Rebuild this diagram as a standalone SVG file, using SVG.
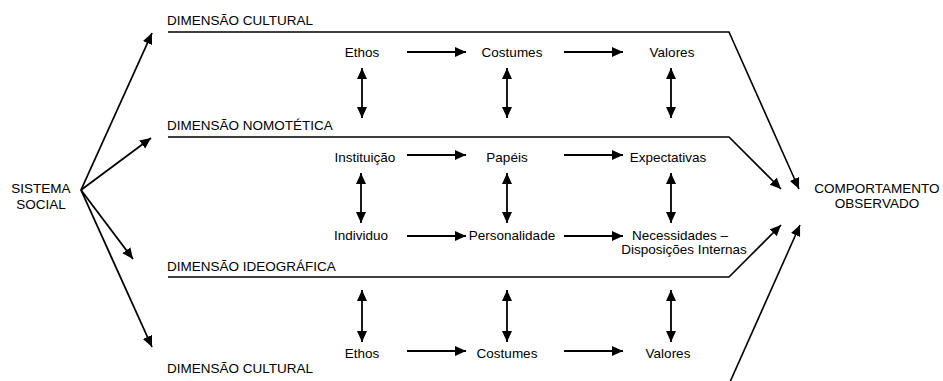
<svg xmlns="http://www.w3.org/2000/svg" width="943" height="381" viewBox="0 0 943 381">
  <style>
    text { font-family: "Liberation Sans", Arial, sans-serif; font-size: 13.5px; fill: #000; }
    .c { text-anchor: middle; }
    .ln { fill: none; stroke: #000; stroke-width: 1.6; }
    .ar { fill: none; stroke: #000; stroke-width: 1.8; marker-end: url(#head); }
    .bi { fill: none; stroke: #000; stroke-width: 1.8; marker-start: url(#head); marker-end: url(#head); }
  </style>
  <defs>
    <marker id="head" markerUnits="userSpaceOnUse" markerWidth="12" markerHeight="11" refX="11" refY="5" orient="auto-start-reverse">
      <path d="M0,0 L11,5 L0,10 z" fill="#000"/>
    </marker>
  </defs>
  <rect width="943" height="381" fill="#fff"/>

  <!-- source and outcome -->
  <g id="sistema-social">
    <text class="c" x="41" y="193">SISTEMA</text>
    <text class="c" x="41" y="209">SOCIAL</text>
  </g>
  <g id="comportamento">
    <text class="c" x="877" y="193">COMPORTAMENTO</text>
    <text class="c" x="877" y="208">OBSERVADO</text>
  </g>

  <!-- dimension labels -->
  <g id="dim-cultural-top"><text x="167" y="25">DIMENSÃO CULTURAL</text></g>
  <g id="dim-nomotetica"><text x="167" y="130">DIMENSÃO NOMOTÉTICA</text></g>
  <g id="dim-ideografica"><text x="167" y="271">DIMENSÃO IDEOGRÁFICA</text></g>
  <g id="dim-cultural-bottom"><text x="167" y="373">DIMENSÃO CULTURAL</text></g>

  <!-- row 1 -->
  <g id="ethos-top"><text class="c" x="362" y="57">Ethos</text></g>
  <g id="costumes-top"><text class="c" x="512" y="57">Costumes</text></g>
  <g id="valores-top"><text class="c" x="672" y="57">Valores</text></g>

  <!-- row 2 -->
  <g id="instituicao"><text class="c" x="365" y="162">Instituição</text></g>
  <g id="papeis"><text class="c" x="507" y="162">Papéis</text></g>
  <g id="expectativas"><text class="c" x="668" y="162">Expectativas</text></g>

  <!-- row 3 -->
  <g id="individuo"><text class="c" x="361" y="240">Individuo</text></g>
  <g id="personalidade"><text class="c" x="512" y="240">Personalidade</text></g>
  <g id="necessidades">
    <text class="c" x="680" y="240">Necessidades –</text>
    <text class="c" x="684" y="254">Disposições Internas</text>
  </g>

  <!-- row 4 -->
  <g id="ethos-bottom"><text class="c" x="362" y="358">Ethos</text></g>
  <g id="costumes-bottom"><text class="c" x="507" y="358">Costumes</text></g>
  <g id="valores-bottom"><text class="c" x="668" y="358">Valores</text></g>

  <g id="connectors">
    <!-- from the social system to each dimension -->
    <line class="ar" x1="81" y1="190" x2="152" y2="33"/>
    <line class="ar" x1="81" y1="190" x2="151" y2="138"/>
    <line class="ar" x1="81" y1="190" x2="133" y2="259"/>
    <line class="ar" x1="81" y1="190" x2="152" y2="347"/>

    <!-- dimension lines converging on behaviour -->
    <polyline class="ln" points="168,32 729,32 799,189" marker-end="url(#head)"/>
    <polyline class="ln" points="168,137 729,137 781,189" marker-end="url(#head)"/>
    <polyline class="ln" points="168,277 729,277 781,225" marker-end="url(#head)"/>
    <line class="ln" x1="730" y1="382" x2="800" y2="225" marker-end="url(#head)"/>

    <!-- horizontal flows -->
    <line class="ar" x1="407" y1="52" x2="466" y2="52"/>
    <line class="ar" x1="564" y1="52" x2="623" y2="52"/>
    <line class="ar" x1="407" y1="155" x2="466" y2="155"/>
    <line class="ar" x1="564" y1="155" x2="623" y2="155"/>
    <line class="ar" x1="407" y1="236" x2="466" y2="236"/>
    <line class="ar" x1="564" y1="236" x2="623" y2="236"/>
    <line class="ar" x1="407" y1="351" x2="466" y2="351"/>
    <line class="ar" x1="564" y1="351" x2="623" y2="351"/>

    <!-- vertical two-way links -->
    <line class="bi" x1="362" y1="68" x2="362" y2="118"/>
    <line class="bi" x1="507" y1="68" x2="507" y2="118"/>
    <line class="bi" x1="671" y1="68" x2="671" y2="118"/>
    <line class="bi" x1="361" y1="173" x2="361" y2="223"/>
    <line class="bi" x1="507" y1="173" x2="507" y2="223"/>
    <line class="bi" x1="671" y1="173" x2="671" y2="223"/>
    <line class="bi" x1="362" y1="290" x2="362" y2="342"/>
    <line class="bi" x1="507" y1="290" x2="507" y2="342"/>
    <line class="bi" x1="671" y1="290" x2="671" y2="342"/>
  </g>
</svg>
